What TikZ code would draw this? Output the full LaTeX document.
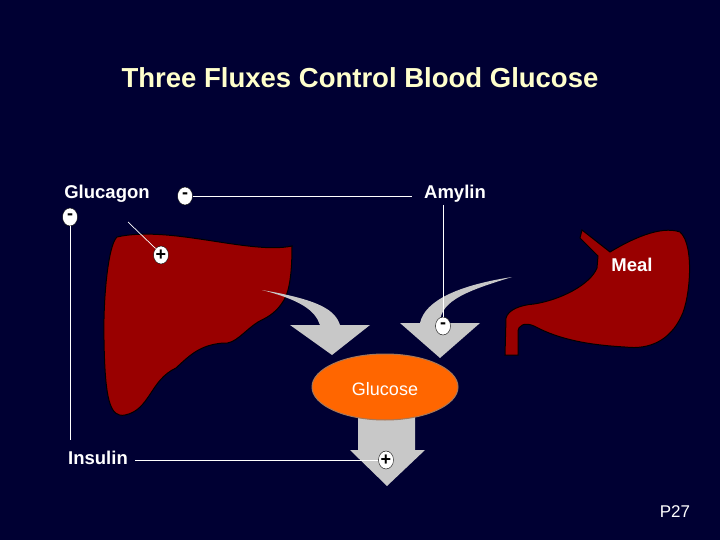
\documentclass[tikz,border=0pt]{standalone}
\usepackage{fontspec}
\setmainfont{Liberation Sans}
\usetikzlibrary{shapes.geometric}
\begin{document}
\begin{tikzpicture}[x=1pt,y=-1pt,
  lbl/.style={text=white,font=\bfseries\fontsize{18.5}{21}\selectfont,inner sep=0pt},
  sgn/.style={ellipse,draw=black,fill=white,minimum width=15pt,minimum height=18pt,inner sep=0pt,font=\bfseries\fontsize{18}{18}\selectfont},
  organ/.style={fill=organred,draw=black,line width=1pt},
  flux/.style={fill=fluxgray,draw=none},
  wire/.style={draw=white,line width=0.7pt}]
\definecolor{bg}{HTML}{000033}
\definecolor{organred}{HTML}{990000}
\definecolor{fluxgray}{HTML}{C8C8C8}
\definecolor{titlec}{HTML}{FFFFCC}
\definecolor{orng}{HTML}{FF6600}
\fill[bg] (0,0) rectangle (720,540);
\useasboundingbox (0,0) rectangle (720,540);
\node[text=titlec,font=\bfseries\fontsize{27.5}{32}\selectfont] (title) at (360,78) {Three Fluxes Control Blood Glucose};
% liver
\path[organ] (117,237) .. controls (170,225) and (250,255) .. (292,246)
  .. controls (292,270) and (290,290) .. (284,300) .. controls (275,315) and (265,318) .. (258,322)
  .. controls (245,330) and (235,345) .. (223,343) .. controls (200,345) and (190,355) .. (176,368)
  .. controls (150,380) and (150,410) .. (125,415) .. controls (110,418) and (105,400) .. (104,340)
  .. controls (103,300) and (108,245) .. (117,237) -- cycle;
% stomach
\path[organ] (582,230) -- (610,252) .. controls (630,240) and (660,225) .. (680,232)
  .. controls (695,245) and (690,300) .. (681,317) .. controls (670,340) and (650,350) .. (625,347)
  .. controls (590,345) and (560,340) .. (534,326) .. controls (525,322) and (518,325) .. (518,332)
  -- (518,355) -- (505,355) -- (506,318) .. controls (508,310) and (520,305) .. (534,304)
  .. controls (560,300) and (590,285) .. (597,268) -- (598,256) -- (580,238) -- cycle;
% flux arrows
\path[flux] (262,290) .. controls (320,300) and (335,310) .. (340,325) -- (370,325) -- (332,355) -- (290,325) -- (320,325)
  .. controls (315,310) and (300,300) .. (262,290) -- cycle;
\path[flux] (512,277) .. controls (470,290) and (440,300) .. (440,323) -- (480,323) -- (440,358) -- (400,323) -- (420,323)
  .. controls (425,300) and (460,285) .. (512,277) -- cycle;
\path[flux] (358,405) -- (415,405) -- (415,450) -- (425,450) -- (387,486) -- (350,450) -- (358,450) -- cycle;
\node[ellipse,fill=orng,draw=gray!70!orng,line width=1pt,minimum width=146pt,minimum height=66pt] (glu) at (385,387) {};
\node[lbl,font=\fontsize{18}{21}\selectfont] (glut) at (385,389) {Glucose};
% labels
\node[lbl] (glucagon) at (107,194) {Glucagon};
\node[lbl] (amylin) at (455,194) {Amylin};
\node[lbl] (insulin) at (98,458) {Insulin};
\node[lbl] (meal) at (632,265) {Meal};
\node[text=white,font=\fontsize{17}{20}\selectfont,inner sep=0pt] (p27) at (675,512) {P27};
% signs
\node[sgn] (s1) at (185,196) {-};
\node[sgn] (s2) at (70,217) {-};
\node[sgn] (s3) at (161,255) {+};
\node[sgn] (s4) at (443,326) {-};
\node[sgn] (s5) at (386,460) {+};
\coordinate (a0) at (412,196);
\coordinate (i1) at (70,440);
\coordinate (a2) at (443,205);
\coordinate (g1) at (128,222);
\coordinate (in1) at (135,460);
% wires
\draw[wire] (s1.east) -- (a0);
\draw[wire] (a2) -- (s4.north);
\draw[wire] (s2.south) -- (i1);
\draw[wire] (g1) -- (s3.north west);
\draw[wire] (in1) -- (s5.west);
\end{tikzpicture}
\end{document}
